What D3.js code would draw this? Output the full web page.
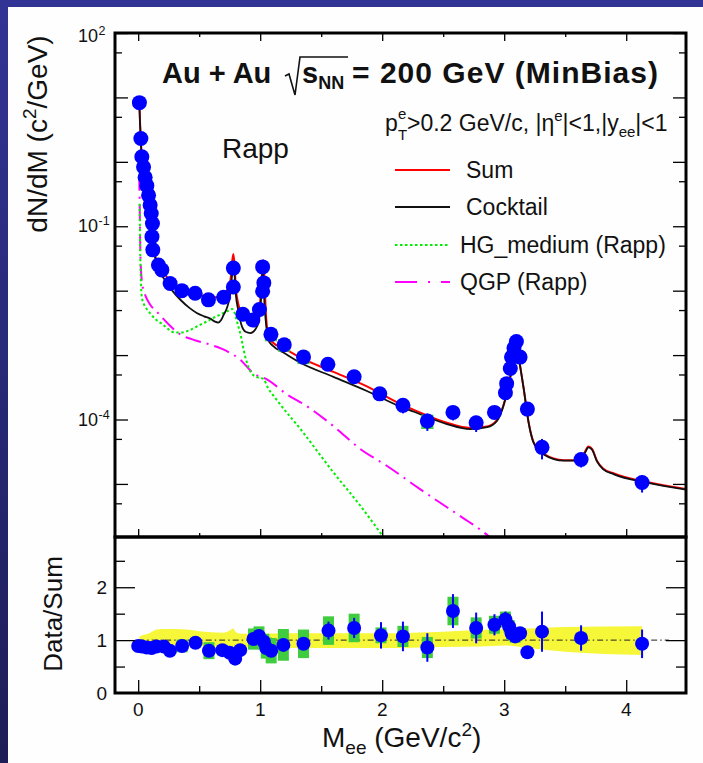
<!DOCTYPE html>
<html><head><meta charset="utf-8">
<script src="https://cdn.jsdelivr.net/npm/d3@7"></script>
<style>body{margin:0;background:#fff}svg{display:block}text{font-family:"Liberation Sans",Arial,Helvetica,sans-serif;fill:#111}</style>
</head><body><svg id="c" width="703" height="763"></svg>
<script>
// ---------- DATA ----------
// measured dielectron spectrum (upper panel)
const dataM   = [0.01,0.022,0.03,0.044,0.057,0.071,0.085,0.098,0.107,0.117,0.113,0.12,0.166,0.194,0.262,0.358,0.467,0.576,0.70,0.78,0.78,0.858,0.94,0.994,1.02,1.03,1.02,1.088,1.197,1.355,1.555,1.77,1.98,2.17,2.37,2.58,2.77,2.92,3.01,3.02,3.05,3.06,3.08,3.10,3.13,3.19,3.31,3.63,4.13];
const dataV   = [8.3,2.3,1.2,0.83,0.575,0.427,0.302,0.214,0.158,0.110,0.069,0.043,0.025,0.021,0.0129,0.0100,0.0091,0.0072,0.0079,0.0224,0.0114,0.0043,0.0035,0.0051,0.0234,0.0132,0.0098,0.0021,0.00145,9.3e-4,7.2e-4,4.6e-4,2.5e-4,1.66e-4,9.5e-5,1.29e-4,8.9e-5,1.29e-4,2.6e-4,3.6e-4,6.2e-4,9.3e-4,1.29e-3,1.62e-3,9.3e-4,1.45e-4,3.7e-5,2.4e-5,1.05e-5];
const dataRelStat = [0.05,0.05,0.05,0.05,0.05,0.05,0.05,0.05,0.05,0.05,0.05,0.05,0.05,0.05,0.05,0.05,0.05,0.05,0.05,0.05,0.05,0.05,0.05,0.05,0.05,0.05,0.05,0.1,0.1,0.1,0.15,0.15,0.2,0.25,0.3,0.25,0.28,0.2,0.12,0.12,0.12,0.12,0.12,0.12,0.12,0.1,0.35,0.25,0.3];
const dataRelSys  = [0,0,0,0,0,0,0,0,0,0,0,0,0,0,0,0,0,0,0,0,0,0,0,0,0,0,0,0.22,0.22,0.22,0,0,0.15,0,0.25,0,0,0,0,0,0,0,0,0,0,0,0,0,0];

// Sum of cocktail + Rapp (red)
const sumM = [0.008,0.015,0.022,0.03,0.04,0.05,0.06,0.07,0.08,0.09,0.10,0.11,0.12,0.13,0.14,0.16,0.20,0.276,0.36,0.47,0.58,0.66,0.72,0.755,0.77,0.78,0.79,0.80,0.82,0.86,0.92,0.96,0.99,1.005,1.015,1.025,1.035,1.045,1.055,1.07,1.10,1.2,1.33,1.6,1.87,2.15,2.26,2.53,2.72,2.86,2.94,3.0,3.05,3.08,3.10,3.12,3.13,3.16,3.20,3.24,3.32,3.49,3.62,3.66,3.69,3.72,3.76,3.81,3.90,4.17,4.50];
const sumV = [10,4.2,2.1,1.2,0.87,0.69,0.54,0.43,0.34,0.27,0.21,0.162,0.107,0.054,0.035,0.026,0.020,0.0132,0.0102,0.0091,0.0079,0.0079,0.0095,0.0141,0.028,0.037,0.025,0.0112,0.0063,0.0042,0.0036,0.0040,0.0050,0.0089,0.019,0.030,0.0158,0.0050,0.0028,0.0019,0.00158,0.00126,9.1e-4,5.5e-4,3.3e-4,1.74e-4,1.41e-4,8.9e-5,7.4e-5,7.8e-5,9.8e-5,1.82e-4,4.6e-4,9.1e-4,1.2e-3,9.1e-4,6.9e-4,3.0e-4,9.1e-5,4.5e-5,2.95e-5,2.34e-5,2.34e-5,3.1e-5,3.8e-5,3.5e-5,2.3e-5,1.74e-5,1.45e-5,1.07e-5,8.3e-6];

// Hadronic cocktail (black)
const cockM = [0.008,0.015,0.022,0.03,0.04,0.05,0.06,0.07,0.08,0.09,0.10,0.11,0.12,0.13,0.14,0.16,0.20,0.276,0.35,0.42,0.48,0.54,0.59,0.63,0.655,0.68,0.70,0.73,0.755,0.77,0.78,0.79,0.80,0.82,0.85,0.88,0.92,0.96,0.99,1.005,1.015,1.02,1.025,1.035,1.05,1.07,1.10,1.2,1.33,1.6,1.87,2.15,2.26,2.53,2.72,2.86,2.94,3.0,3.05,3.08,3.10,3.12,3.13,3.16,3.20,3.24,3.32,3.49,3.62,3.66,3.69,3.72,3.76,3.81,3.90,4.17,4.50];
const cockV = [10,4.0,2.0,1.12,0.79,0.63,0.50,0.40,0.32,0.25,0.20,0.151,0.10,0.050,0.032,0.0224,0.0166,0.0102,0.0071,0.0054,0.0045,0.0040,0.0037,0.0033,0.0032,0.0035,0.0042,0.0056,0.0089,0.0178,0.026,0.0178,0.0089,0.0050,0.0028,0.0023,0.0022,0.0025,0.0035,0.0063,0.0141,0.024,0.0178,0.0063,0.0028,0.00166,0.00141,0.00107,7.6e-4,4.6e-4,2.8e-4,1.58e-4,1.32e-4,8.5e-5,7.1e-5,7.6e-5,9.5e-5,1.78e-4,4.5e-4,8.9e-4,1.17e-3,8.9e-4,6.8e-4,3.0e-4,8.9e-5,4.4e-5,2.9e-5,2.3e-5,2.3e-5,3.0e-5,3.7e-5,3.4e-5,2.24e-5,1.7e-5,1.41e-5,1.05e-5,8.1e-6];

// HG_medium (Rapp), green dotted
const hgM = [0.012,0.015,0.02,0.025,0.035,0.05,0.07,0.10,0.15,0.2,0.25,0.30,0.35,0.426,0.5,0.56,0.63,0.70,0.75,0.77,0.79,0.81,0.836,0.877,0.93,0.98,1.01,1.03,1.06,1.137,1.33,1.60,1.82,2.02];
const hgV = [0.224,0.063,0.020,0.0100,0.0071,0.0060,0.0052,0.0044,0.0035,0.0030,0.0025,0.00224,0.00224,0.00245,0.0029,0.0033,0.0039,0.0045,0.0050,0.0052,0.0045,0.0033,0.0022,9.5e-4,5.2e-4,4.5e-4,4.4e-4,4.2e-4,3.2e-4,2.0e-4,7.1e-5,1.51e-5,4.6e-6,1.41e-6];

// QGP (Rapp), magenta dash-dot
const qgpM = [0.008,0.012,0.016,0.02,0.03,0.045,0.06,0.08,0.10,0.153,0.235,0.344,0.45,0.59,0.727,0.836,0.945,1.055,1.22,1.38,1.60,1.82,2.04,2.31,2.67,2.78,2.90];
const qgpV = [0.63,0.25,0.063,0.028,0.0141,0.0100,0.0083,0.0069,0.0060,0.0047,0.0032,0.0021,0.00174,0.00145,0.00115,8.5e-4,5.2e-4,4.2e-4,2.45e-4,1.62e-4,7.9e-5,3.5e-5,1.9e-5,8.3e-6,2.9e-6,2.1e-6,1.41e-6];

// Data / Sum (lower panel)
const ratioM    = [0.0,0.03,0.07,0.11,0.15,0.21,0.26,0.36,0.47,0.58,0.69,0.75,0.795,0.836,0.945,0.99,1.03,1.05,1.09,1.19,1.355,1.56,1.77,1.99,2.17,2.37,2.58,2.77,2.92,3.01,3.04,3.06,3.09,3.13,3.19,3.31,3.63,4.13];
const ratioV    = [0.89,0.88,0.86,0.85,0.88,0.88,0.80,0.89,0.95,0.80,0.81,0.76,0.65,0.81,1.02,1.08,0.97,0.85,0.80,0.91,0.93,1.18,1.23,1.09,1.07,0.86,1.55,1.23,1.29,1.39,1.26,1.13,1.07,1.13,0.77,1.16,1.04,0.93];
const ratioStat = [0.03,0.03,0.03,0.03,0.03,0.03,0.03,0.04,0.04,0.05,0.06,0.06,0.06,0.05,0.06,0.06,0.05,0.05,0.06,0.1,0.1,0.17,0.19,0.25,0.28,0.27,0.32,0.29,0.2,0.15,0.12,0.1,0.1,0.1,0.06,0.38,0.24,0.27];
const ratioSys  = [0.02,0.02,0.02,0.02,0.02,0.02,0.02,0.12,0.08,0.16,0.1,0.08,0.05,0.08,0.2,0.18,0.15,0.2,0.24,0.3,0.27,0.27,0.27,0.15,0.2,0.2,0.27,0.2,0.17,0.15,0.12,0.12,0.12,0.1,0.05,0.05,0.1,0.05];

// cocktail uncertainty band (yellow)
const bandM  = [0.01,0.05,0.1,0.15,0.2,0.3,0.4,0.5,0.6,0.7,0.75,0.78,0.8,0.85,0.9,1.0,1.2,1.5,2.0,2.5,2.8,3.0,3.2,3.5,4.13];
const bandHi = [1.07,1.10,1.14,1.20,1.21,1.21,1.20,1.17,1.15,1.14,1.18,1.22,1.15,1.12,1.12,1.12,1.13,1.13,1.13,1.16,1.19,1.21,1.22,1.25,1.26];
const bandLo = [0.92,0.91,0.91,0.91,0.91,0.91,0.91,0.90,0.88,0.87,0.87,0.86,0.86,0.86,0.86,0.85,0.85,0.85,0.85,0.87,0.88,0.90,0.85,0.78,0.72];

// ticks / labels
const xMajor = [0,1,2,3,4];
const xMinor = [0.5,1.5,2.5,3.5];
const xTickLabels = ["0","1","2","3","4"];
const yDecades = [1e-5,1e-4,1e-3,1e-2,1e-1,1,10,100];
const yMinor = [5e-6,5e-5,5e-4,5e-3,5e-2,0.5,5,50];
const yLabelVals = [100,0.1,1e-4];
const yLabelExp = ["2","-1","-4"];
const rMajor = [1,2];
const rMinor = [0.5,1.5,2.5];
const rTickVals = [0,1,2];
const rTickLabels = ["0","1","2"];
const legendLabels = ["Sum","Cocktail","HG_medium (Rapp)","QGP (Rapp)"];

// ---------- DRAW ----------
const W=703,H=763;
const svg=d3.select("#c");
const defs=svg.append("defs");
const g0=defs.append("linearGradient").attr("id","bg").attr("x1",0).attr("y1",0).attr("x2",0).attr("y2",1);
g0.append("stop").attr("offset","0%").attr("stop-color","#323495");
g0.append("stop").attr("offset","100%").attr("stop-color","#1d1d57");
svg.append("rect").attr("width",W).attr("height",H).attr("fill","url(#bg)");
svg.append("rect").attr("x",8).attr("y",7).attr("width",W-8).attr("height",H-7).attr("fill","#fefefe");

const L=115,R=686,T=33,MID=537,B=693;
const x=d3.scaleLinear().domain([-0.19,4.49]).range([L,R]);
const y=d3.scaleLog().domain([1.5e-6,100]).range([MID,T]);
const yr=d3.scaleLinear().domain([0,2.95]).range([B,MID]);

defs.append("clipPath").attr("id","cu").append("rect").attr("x",L).attr("y",T).attr("width",R-L).attr("height",MID-T);
defs.append("clipPath").attr("id","cl").append("rect").attr("x",L).attr("y",MID).attr("width",R-L).attr("height",B-MID);

const up=svg.append("g").attr("clip-path","url(#cu)");
const lo=svg.append("g").attr("clip-path","url(#cl)");

const zip=(a,b)=>a.map((v,i)=>[v,b[i]]);
const line=d3.line().x(d=>x(d[0])).y(d=>y(d[1])).curve(d3.curveMonotoneX);

// curves
up.append("path").attr("d",line(zip(qgpM,qgpV))).attr("fill","none").attr("stroke","#ff00ff").attr("stroke-width",2).attr("stroke-dasharray","16,6,2,6");
up.append("path").attr("d",line(zip(hgM,hgV))).attr("fill","none").attr("stroke","#00ee00").attr("stroke-width",2).attr("stroke-dasharray","2.5,2.5");
up.append("path").attr("d",line(zip(sumM,sumV))).attr("fill","none").attr("stroke","#ff0000").attr("stroke-width",2);
up.append("path").attr("d",line(zip(cockM,cockV))).attr("fill","none").attr("stroke","#111").attr("stroke-width",1.8);

// upper data
const pts=dataM.map((m,i)=>({m,v:dataV[i],e:dataRelStat[i],s:dataRelSys[i]}));
up.selectAll("rect.sys").data(pts.filter(d=>d.s>0)).join("rect")
  .attr("x",d=>x(d.m-0.05)).attr("width",d=>x(d.m+0.05)-x(d.m-0.05))
  .attr("y",d=>y(d.v*(1+d.s))).attr("height",d=>y(d.v*(1-d.s))-y(d.v*(1+d.s)))
  .attr("fill","#3fcc3f");
up.selectAll("line.err").data(pts).join("line")
  .attr("x1",d=>x(d.m)).attr("x2",d=>x(d.m))
  .attr("y1",d=>y(d.v*(1+d.e))).attr("y2",d=>y(d.v*(1-d.e)))
  .attr("stroke","#0000ff").attr("stroke-width",2);
up.selectAll("circle").data(pts).join("circle")
  .attr("cx",d=>x(d.m)).attr("cy",d=>y(d.v)).attr("r",7.5).attr("fill","#0000ff");

// lower panel
const area=d3.area().x(d=>x(d[0])).y0(d=>yr(d[1])).y1(d=>yr(d[2])).curve(d3.curveMonotoneX);
lo.append("path").attr("d",area(bandM.map((m,i)=>[m,bandLo[i],bandHi[i]]))).attr("fill","#f7f73a");
lo.append("line").attr("x1",x(0)).attr("x2",x(4.35)).attr("y1",yr(1)).attr("y2",yr(1))
  .attr("stroke","#222").attr("stroke-width",1).attr("stroke-dasharray","6,3,1.5,3");
const rp=ratioM.map((m,i)=>({m,v:ratioV[i],e:ratioStat[i],s:ratioSys[i]}));
lo.selectAll("rect.sys").data(rp).join("rect")
  .attr("x",d=>x(d.m-0.045)).attr("width",d=>x(d.m+0.045)-x(d.m-0.045))
  .attr("y",d=>yr(d.v+d.s)).attr("height",d=>yr(d.v-d.s)-yr(d.v+d.s))
  .attr("fill","#3fcc3f");
lo.selectAll("line.err").data(rp).join("line")
  .attr("x1",d=>x(d.m)).attr("x2",d=>x(d.m))
  .attr("y1",d=>yr(d.v+d.e)).attr("y2",d=>yr(d.v-d.e))
  .attr("stroke","#0000ff").attr("stroke-width",2);
lo.selectAll("circle").data(rp).join("circle")
  .attr("cx",d=>x(d.m)).attr("cy",d=>yr(d.v)).attr("r",7).attr("fill","#0000ff");

// axes (ticks inward)
function ax(axis,tx,ty){
  const g=svg.append("g").attr("transform",`translate(${tx},${ty})`).call(axis);
  g.select(".domain").remove();
  g.selectAll("line").attr("stroke","#000").attr("stroke-width",1.3);
  g.selectAll("text").remove();
  return g;
}
const nf=()=>"";
ax(d3.axisLeft(y).tickValues(yDecades).tickSize(-13).tickFormat(nf),L,0);
ax(d3.axisLeft(y).tickValues(yMinor).tickSize(-7).tickFormat(nf),L,0);
ax(d3.axisRight(y).tickValues(yDecades).tickSize(-13).tickFormat(nf),R,0);
ax(d3.axisRight(y).tickValues(yMinor).tickSize(-7).tickFormat(nf),R,0);
ax(d3.axisTop(x).tickValues(xMajor).tickSize(-8).tickFormat(nf),0,T);
ax(d3.axisTop(x).tickValues(xMinor).tickSize(-4).tickFormat(nf),0,T);
ax(d3.axisBottom(x).tickValues(xMajor).tickSize(-8).tickFormat(nf),0,MID);
ax(d3.axisBottom(x).tickValues(xMinor).tickSize(-4).tickFormat(nf),0,MID);
ax(d3.axisLeft(yr).tickValues(rMajor).tickSize(-20).tickFormat(nf),L,0);
ax(d3.axisLeft(yr).tickValues(rMinor).tickSize(-10).tickFormat(nf),L,0);
ax(d3.axisRight(yr).tickValues(rMajor).tickSize(-20).tickFormat(nf),R,0);
ax(d3.axisRight(yr).tickValues(rMinor).tickSize(-10).tickFormat(nf),R,0);
ax(d3.axisBottom(x).tickValues(xMajor).tickSize(-13).tickFormat(nf),0,B);
ax(d3.axisBottom(x).tickValues(xMinor).tickSize(-7).tickFormat(nf),0,B);

// frames
svg.append("rect").attr("x",L).attr("y",T).attr("width",R-L).attr("height",MID-T).attr("fill","none").attr("stroke","#000").attr("stroke-width",3);
svg.append("rect").attr("x",L).attr("y",MID).attr("width",R-L).attr("height",B-MID).attr("fill","none").attr("stroke","#000").attr("stroke-width",3);

// tick labels
yLabelVals.forEach((v,i)=>{
  const yy = i===0 ? y(v)+9 : y(v)+6;
  svg.append("text").attr("x",98).attr("y",yy).attr("text-anchor","end").attr("font-size",18).text("10");
  svg.append("text").attr("x",98.5).attr("y",yy-7).attr("font-size",12.5).text(yLabelExp[i]);
});
xMajor.forEach((v,i)=>{
  svg.append("text").attr("x",x(v)).attr("y",716).attr("text-anchor","middle").attr("font-size",19).text(xTickLabels[i]);
});
rTickVals.forEach((v,i)=>{
  svg.append("text").attr("x",107).attr("y",yr(v)+7).attr("text-anchor","end").attr("font-size",19).text(rTickLabels[i]);
});

// axis titles
const xt=svg.append("text").attr("x",322).attr("y",747).attr("font-size",28);
xt.append("tspan").text("M");
xt.append("tspan").attr("font-size",19).attr("dy",7).text("ee");
xt.append("tspan").attr("dy",-7).text(" (GeV/c");
xt.append("tspan").attr("font-size",19).attr("dy",-11).text("2");
xt.append("tspan").attr("dy",11).text(")");

const yt=svg.append("text").attr("transform","translate(47,134) rotate(-90)").attr("text-anchor","middle").attr("font-size",28);
yt.append("tspan").text("dN/dM (c");
yt.append("tspan").attr("font-size",19).attr("dy",-11).text("2");
yt.append("tspan").attr("dy",11).text("/GeV)");

svg.append("text").attr("transform","translate(62,614) rotate(-90)").attr("text-anchor","middle").attr("font-size",26).text("Data/Sum");

// title
svg.append("text").attr("x",162).attr("y",83).attr("font-size",29).attr("font-weight","bold").text("Au + Au");
svg.append("path").attr("d","M285,76 L289,74 L295,95 L300,57 L348,57").attr("fill","none").attr("stroke","#111").attr("stroke-width",1.6);
const st=svg.append("text").attr("x",302).attr("y",83).attr("font-size",29).attr("font-weight","bold");
st.append("tspan").text("s");
st.append("tspan").attr("font-size",18).attr("dy",6).text("NN");
svg.append("text").attr("x",352).attr("y",83).attr("font-size",30).attr("font-weight","bold")
  .attr("textLength",306).attr("lengthAdjust","spacing").text("= 200 GeV (MinBias)");

svg.append("text").attr("x",222).attr("y",158).attr("font-size",28).text("Rapp");

// legend header
svg.append("text").attr("x",385).attr("y",131).attr("font-size",23).text("p");
svg.append("text").attr("x",398).attr("y",119).attr("font-size",15).text("e");
svg.append("text").attr("x",398).attr("y",140).attr("font-size",15).text("T");
const lh=svg.append("text").attr("x",407).attr("y",131).attr("font-size",23);
lh.append("tspan").text(">0.2 GeV/c, |\u03b7");
lh.append("tspan").attr("font-size",15).attr("dy",-10).text("e");
lh.append("tspan").attr("dy",10).text("|<1,|y");
lh.append("tspan").attr("font-size",15).attr("dy",6).text("ee");
lh.append("tspan").attr("dy",-6).text("|<1");

// legend entries
const legY=[170,207,245,282];
const legX=[466,466,460,460];
const legStyle=[
  {c:"#ff0000",d:null,w:2},
  {c:"#111",d:null,w:2},
  {c:"#00ee00",d:"2.5,2.5",w:2},
  {c:"#ff00ff",d:"22,11,2,11",w:2}
];
legendLabels.forEach((t,i)=>{
  const l=svg.append("line").attr("x1",395).attr("x2",450).attr("y1",legY[i]).attr("y2",legY[i])
    .attr("stroke",legStyle[i].c).attr("stroke-width",legStyle[i].w);
  if(legStyle[i].d) l.attr("stroke-dasharray",legStyle[i].d);
  svg.append("text").attr("x",legX[i]).attr("y",legY[i]+8).attr("font-size",23).text(t);
});
</script></body></html>
